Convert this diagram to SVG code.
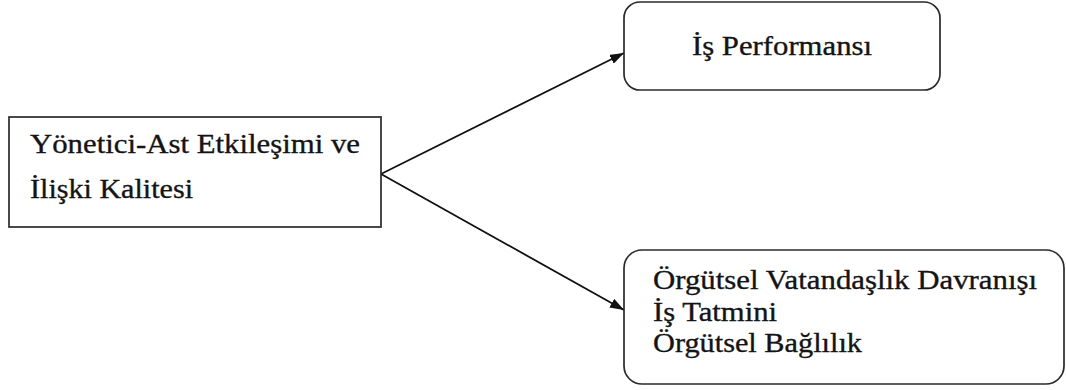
<svg xmlns="http://www.w3.org/2000/svg" width="1066" height="390" viewBox="0 0 1066 390">
  <style>
    .box { fill: #ffffff; stroke: #2a2a2a; stroke-width: 1.7; }
    .lbl { font-family: "Liberation Serif", "Times New Roman", serif; font-size: 28px; fill: #141414; stroke: #141414; stroke-width: 0.35; }
    .edge { stroke: #111111; stroke-width: 1.8; fill: none; marker-end: url(#head); }
  </style>
  <defs>
    <marker id="head" viewBox="0 0 14 10" refX="14" refY="5" markerWidth="14" markerHeight="10" markerUnits="userSpaceOnUse" orient="auto">
      <path d="M0,0 L14,5 L0,10 Z" fill="#111111"/>
    </marker>
  </defs>
  <rect width="1066" height="390" fill="#ffffff"/>

  <g id="connectors">
    <line class="edge" x1="381" y1="174" x2="624" y2="53"/>
    <line class="edge" x1="381" y1="174" x2="624" y2="310"/>
  </g>

  <g id="node-lmx">
    <rect class="box" x="9" y="117" width="372" height="110"/>
    <text class="lbl" x="30" y="153" textLength="330" lengthAdjust="spacingAndGlyphs">Yönetici-Ast Etkileşimi ve</text>
    <text class="lbl" x="30" y="198" textLength="163" lengthAdjust="spacingAndGlyphs">İlişki Kalitesi</text>
  </g>

  <g id="node-performance">
    <rect class="box" x="624" y="2" width="316" height="88" rx="16"/>
    <text class="lbl" x="692" y="55" textLength="180" lengthAdjust="spacingAndGlyphs">İş Performansı</text>
  </g>

  <g id="node-outcomes">
    <rect class="box" x="624" y="250" width="440" height="134" rx="18"/>
    <text class="lbl" x="653" y="289" textLength="384" lengthAdjust="spacingAndGlyphs">Örgütsel Vatandaşlık Davranışı</text>
    <text class="lbl" x="653" y="321" textLength="124" lengthAdjust="spacingAndGlyphs">İş Tatmini</text>
    <text class="lbl" x="653" y="352" textLength="209" lengthAdjust="spacingAndGlyphs">Örgütsel Bağlılık</text>
  </g>
</svg>
